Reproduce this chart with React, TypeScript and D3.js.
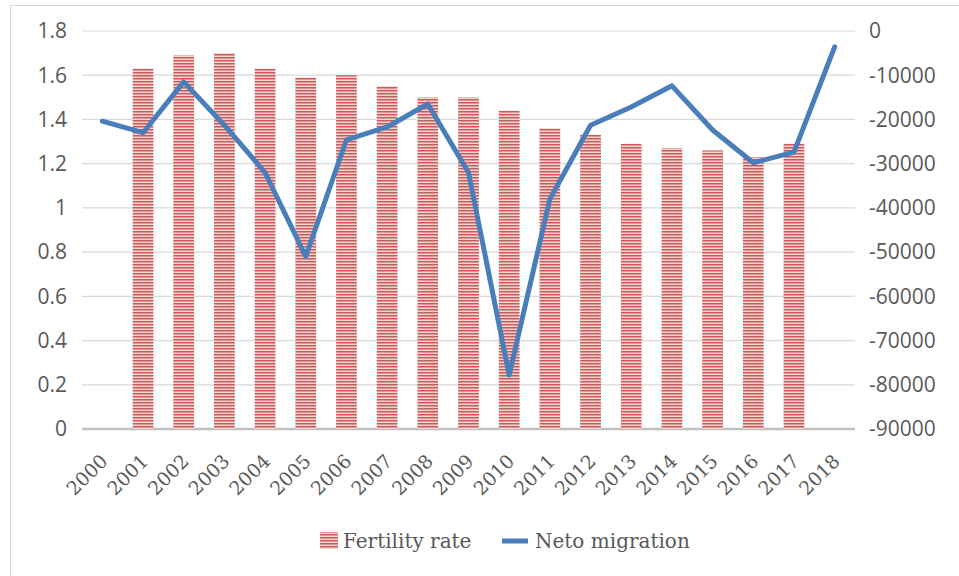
import React from "react";
import * as d3 from "d3";

const years = ["2000","2001","2002","2003","2004","2005","2006","2007","2008","2009","2010","2011","2012","2013","2014","2015","2016","2017","2018"];
const fertility: (number | null)[] = [null,1.63,1.69,1.70,1.63,1.59,1.60,1.55,1.50,1.50,1.44,1.36,1.33,1.29,1.27,1.26,1.23,1.29,null];
const migration = [-20400,-23000,-11500,-21300,-32000,-51000,-24600,-21700,-16500,-32000,-77800,-38000,-21300,-17200,-12400,-22400,-29800,-27400,-3600];
const leftTicks = [0,0.2,0.4,0.6,0.8,1,1.2,1.4,1.6,1.8];
const rightTicks = [0,-10000,-20000,-30000,-40000,-50000,-60000,-70000,-80000,-90000];
const seriesNames = ["Fertility rate","Neto migration"];

const W = 959, H = 576;
const L = 82, R = 855, T = 31, B = 429;

export default function App() {
  const x = d3.scaleBand().domain(years).range([L, R]).paddingInner(0.49).paddingOuter(0.245);
  const xc = d3.scalePoint().domain(years).range([L, R]).padding(0.5);
  const yL = d3.scaleLinear().domain([0, 1.8]).range([B, T]);
  const yR = d3.scaleLinear().domain([-90000, 0]).range([B, T]);
  const line = d3.line<number>().x((_, i) => xc(years[i])!).y(d => yR(d));
  const sans = "'Open Sans', 'Noto Sans', sans-serif";
  const serif = "'DejaVu Serif', serif";
  return (
    <svg width={W} height={H} style={{ position: "absolute", left: 0, top: 0, background: "#fff" }}>
      <defs>
        <pattern id="hstripe" patternUnits="userSpaceOnUse" width={6} height={3}>
          <rect x={0} y={0} width={6} height={3} fill="#f4d3d3" />
          <rect x={0} y={0} width={6} height={1.5} fill="#cc5a59" />
        </pattern>
      </defs>
      <rect x={10.5} y={5.5} width={W} height={H} fill="none" stroke="#d9d9d9" />
      {leftTicks.map(t => (
        <line key={t} x1={L} x2={R} y1={yL(t)} y2={yL(t)} stroke={t === 0 ? "#bfbfbf" : "#d9d9d9"} strokeWidth={t === 0 ? 2.5 : 1.2} />
      ))}
      {years.map((yr, i) => fertility[i] == null ? null : (
        <rect key={yr} x={x(yr)} width={x.bandwidth()} y={yL(fertility[i]!)} height={B - yL(fertility[i]!)} fill="url(#hstripe)" />
      ))}
      <path d={line(migration)!} fill="none" stroke="#4a7ebb" strokeWidth={5} strokeLinejoin="round" strokeLinecap="round" />
      {leftTicks.map(t => (
        <text key={t} x={67} y={yL(t)} dy="0.35em" textAnchor="end" fontFamily={sans} fontSize={21} fill="#595959">{t}</text>
      ))}
      {rightTicks.map(t => (
        <text key={t} x={869} y={yR(t)} dy="0.35em" textAnchor="start" fontFamily={sans} fontSize={21} fill="#595959">{t}</text>
      ))}
      {years.map(yr => (
        <text key={yr} transform={`translate(${xc(yr)! - 3},${B + 24}) rotate(-45)`} textAnchor="end" dy="0.7em" fontFamily={serif} fontSize={19} fill="#595959">{yr}</text>
      ))}
      <rect x={320} y={532} width={18} height={17} fill="url(#hstripe)" />
      <text x={343} y={548} fontFamily={serif} fontSize={20} fill="#595959">{seriesNames[0]}</text>
      <line x1={502} x2={528} y1={541} y2={541} stroke="#4a7ebb" strokeWidth={5} />
      <text x={535} y={548} fontFamily={serif} fontSize={20} fill="#595959">{seriesNames[1]}</text>
    </svg>
  );
}
